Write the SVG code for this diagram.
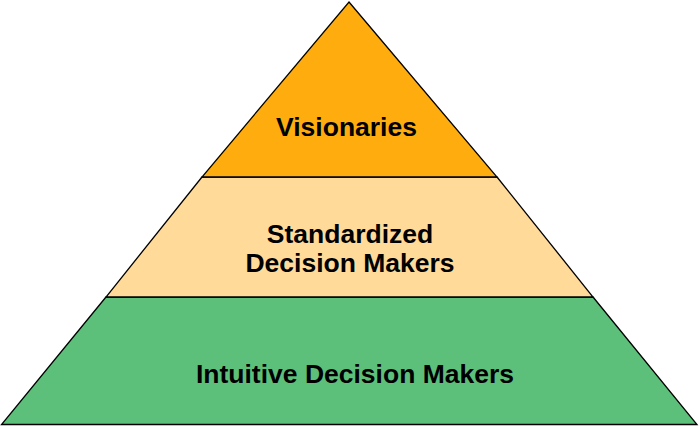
<svg xmlns="http://www.w3.org/2000/svg" width="699" height="426" viewBox="0 0 699 426">
<style>
.band{stroke:#000;stroke-width:1.3;stroke-linejoin:miter}
.t{font-family:"Liberation Sans",Arial,sans-serif;font-weight:bold;font-size:26.5px;fill:#000;text-anchor:middle}
</style>
<rect width="699" height="426" fill="#fff"/>
<g id="intuitive">
<polygon class="band" points="106,297 593,297 697,424.5 1.5,424.5" fill="#5CC07A"/>
<text class="t" x="355" y="383">Intuitive Decision Makers</text>
</g>
<g id="standardized">
<polygon class="band" points="202,177 497,177 593,297 106,297" fill="#FFDA99"/>
<text class="t" x="350" y="243">Standardized</text>
<text class="t" x="350" y="272">Decision Makers</text>
</g>
<g id="visionaries">
<polygon class="band" points="349,2 497,177 202,177" fill="#FFAD0E"/>
<text class="t" x="346.5" y="136">Visionaries</text>
</g>
<g id="connectors"/>
</svg>
